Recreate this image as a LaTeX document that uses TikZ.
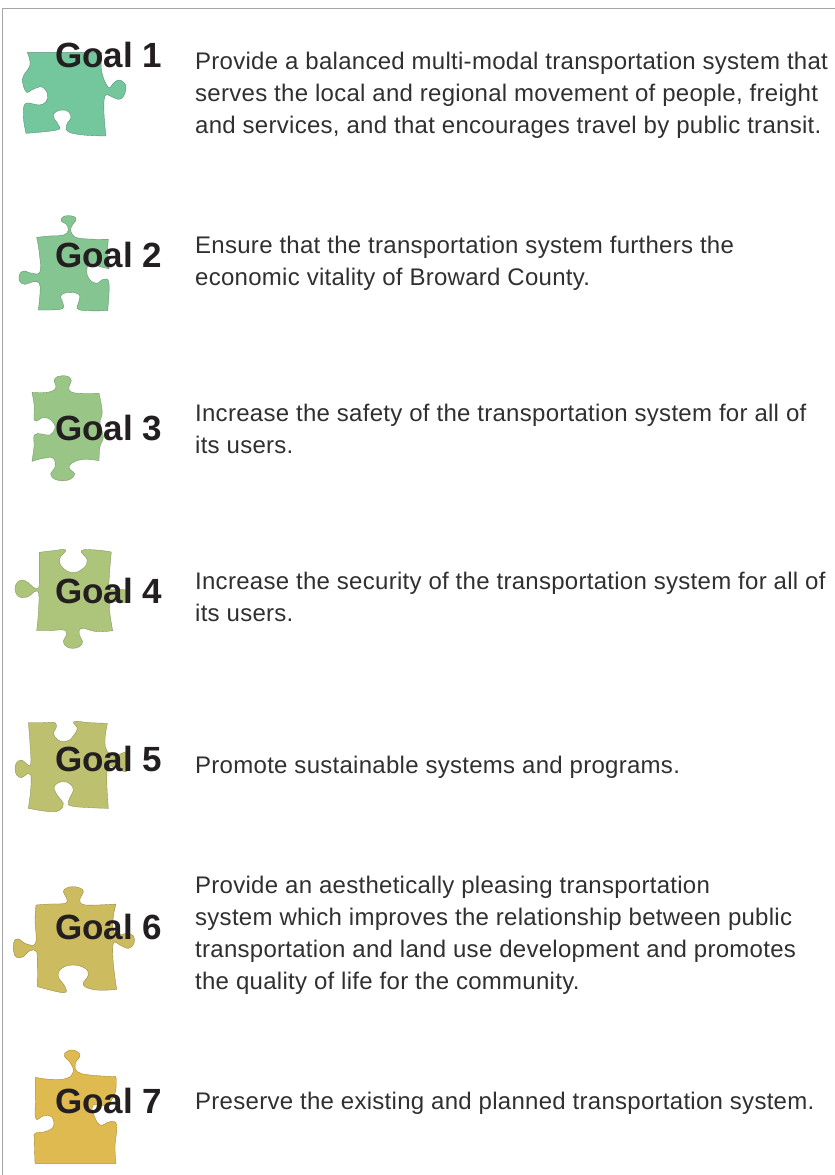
\documentclass[tikz,border=0pt]{standalone}
\usepackage{fontspec}
\setmainfont{Liberation Sans}
\newfontfamily\bodyfont[LetterSpace=1.15]{Liberation Sans}
\definecolor{ink}{HTML}{231F20}
\definecolor{bodyink}{HTML}{303032}
\definecolor{frameg}{HTML}{A6A6A6}
\tikzset{
  goal/.style={anchor=base west,inner sep=0pt,text=ink,font=\fontsize{35}{35}\selectfont\bfseries},
  body/.style={anchor=base west,inner sep=0pt,text=bodyink,font=\bodyfont\fontsize{24}{32}\selectfont},
  piece/.style={line width=.35pt},
  sm/.style={smooth,tension=.7}
}
\begin{document}
\begin{tikzpicture}[x=1pt,y=-1pt]
\useasboundingbox (0,0) rectangle (835,1175);
\fill[white] (0,0) rectangle (835,1175);
\draw[frameg,line width=1pt] (2.3,1175) -- (2.3,8) -- (835,8);

% Piece 1
\begin{scope}[scale=1/3]
\filldraw[piece,fill={rgb,255:red,116;green,198;blue,157},draw={rgb,255:red,80;green,140;blue,115}]
 plot[sm] coordinates {(82,158)} -- (305,158)
 -- plot[sm] coordinates {(305,158)(305,215)(325,262)(340,250)(355,240)(372,248)(378,265)(370,290)(355,298)(335,290)(315,288)(312,340)(318,408)}
 -- plot[sm] coordinates {(318,408)(250,405)(205,395)(200,375)(213,352)(205,335)(188,330)(168,335)(160,350)(175,375)(170,390)(78,400)}
 -- plot[sm] coordinates {(78,400)(70,350)(75,312)(100,312)(120,315)(138,305)(143,285)(135,268)(120,260)(95,270)(78,275)(68,235)(90,195)(82,158)} -- cycle;
% Piece 2
\filldraw[piece,fill={rgb,255:red,132;green,197;blue,146},draw={rgb,255:red,95;green,145;blue,105}]
 plot[sm] coordinates {(110,712)(150,708)(190,705)(205,690)(198,672)(185,665)(183,660)(190,650)(205,647)(222,650)(228,660)(214,680)(215,700)(240,715)(325,718)}
 -- plot[sm] coordinates {(325,718)(322,770)(326,806)}
 -- plot[sm] coordinates {(326,806)(300,800)(270,790)(260,812)(268,838)(290,850)(310,838)(327,850)(323,932)}
 -- plot[sm] coordinates {(323,932)(240,930)(235,910)(240,890)(230,880)(210,877)(192,880)(182,890)(190,915)(180,928)(115,930)}
 -- plot[sm] coordinates {(115,930)(120,880)(118,850)(100,845)(75,853)(60,845)(57,832)(62,818)(75,813)(95,820)(120,815)(118,760)(110,712)} -- cycle;
\end{scope}
% Pieces 3, 4
\begin{scope}[shift={(0,360)},scale=1/3]
\filldraw[piece,fill={rgb,255:red,153;green,197;blue,135},draw={rgb,255:red,115;green,150;blue,100}]
 plot[sm] coordinates {(96,97)(130,98)(160,92)(168,78)(162,62)(172,50)(187,47)(205,50)(214,62)(207,80)(212,95)(240,100)(297,100)}
 -- plot[sm] coordinates {(297,100)(305,140)(306,165)(300,190)(310,230)(300,260)(297,302)}
 -- plot[sm] coordinates {(297,302)(250,298)(215,310)(208,325)(224,342)(210,358)(188,362)(165,358)(152,342)(165,322)(160,295)(130,295)(96,304)}
 -- plot[sm] coordinates {(96,304)(102,260)(103,225)(125,222)(150,225)(165,205)(160,188)(145,175)(130,172)(104,182)(103,140)(96,97)} -- cycle;
\filldraw[piece,fill={rgb,255:red,173;green,196;blue,123},draw={rgb,255:red,130;green,150;blue,90}]
 plot[sm] coordinates {(118,577)(160,572)(197,570)(178,598)(190,625)(220,638)(250,625)(262,600)(244,572)(290,570)(334,576)}
 -- plot[sm] coordinates {(334,576)(328,650)(330,685)(360,688)(380,690)}
 -- (378,728)
 -- plot[sm] coordinates {(378,728)(345,725)(328,735)(338,812)}
 -- plot[sm] coordinates {(338,812)(290,815)(245,805)(238,825)(248,845)(238,860)(218,865)(200,860)(190,845)(200,822)(190,810)(150,812)(110,812)}
 -- plot[sm] coordinates {(110,812)(115,760)(116,700)(102,696)(88,708)(65,713)(50,703)(45,686)(50,670)(65,660)(85,668)(100,682)(116,683)(118,640)(118,577)} -- cycle;
\end{scope}
% Pieces 5, 6
\begin{scope}[shift={(0,700)},scale=1/3]
\filldraw[piece,fill={rgb,255:red,189;green,192;blue,111},draw={rgb,255:red,140;green,145;blue,80}]
 plot[sm] coordinates {(85,68)(130,68)(165,68)(168,85)(160,100)(172,118)(190,125)(212,118)(222,105)(232,85)(222,65)(270,68)(322,70)}
 -- plot[sm] coordinates {(322,70)(315,120)(322,155)(350,165)(378,158)(388,190)(378,215)(350,205)(322,210)(325,325)}
 -- plot[sm] coordinates {(325,325)(270,323)(215,318)(205,305)(220,270)(210,252)(192,245)(172,250)(162,265)(175,290)(190,310)(180,330)(150,335)(85,325)}
 -- plot[sm] coordinates {(85,325)(92,270)(92,225)(78,224)(65,233)(50,225)(45,205)(50,188)(65,180)(78,190)(92,192)(90,130)(85,68)} -- cycle;
\filldraw[piece,fill={rgb,255:red,204;green,187;blue,95},draw={rgb,255:red,150;green,135;blue,60}]
 plot[sm] coordinates {(108,615)(150,612)(195,610)(200,595)(190,575)(200,564)(218,560)(240,564)(250,575)(240,597)(248,613)(290,615)(348,612)}
 -- plot[sm] coordinates {(348,612)(340,650)(340,690)(355,705)(380,700)(400,708)(402,730)(385,745)(360,735)(340,730)(340,790)(350,868)}
 -- plot[sm] coordinates {(350,868)(290,870)(250,855)(265,825)(255,805)(220,795)(185,805)(175,830)(195,860)(190,878)(113,860)}
 -- plot[sm] coordinates {(113,860)(112,790)(110,755)(90,752)(70,770)(50,772)(41,755)(42,725)(55,717)(80,732)(107,728)(105,660)(108,615)} -- cycle;
\end{scope}
% Piece 7
\begin{scope}[shift={(0,1030)},scale=1/3]
\filldraw[piece,fill={rgb,255:red,223;green,186;blue,80},draw={rgb,255:red,165;green,135;blue,50}]
 plot[sm] coordinates {(107,142)(150,148)(200,145)(220,125)(212,100)(193,78)(200,65)(215,60)(232,65)(240,78)(226,100)(232,125)(270,135)(348,140)}
 -- plot[sm] coordinates {(348,140)(345,190)(318,225)(280,225)(280,250)(300,285)(330,275)(350,285)(345,350)(348,400)}
 -- (105,400)
 -- plot[sm] coordinates {(105,400)(103,330)(105,310)(135,305)(160,290)(155,260)(130,258)(107,265)(107,200)(107,142)} -- cycle;
\end{scope}

\node[goal] (g1) at (55,67) {Goal 1};
\node[goal] (g2) at (55,267) {Goal 2};
\node[goal] (g3) at (55,440) {Goal 3};
\node[goal] (g4) at (55,603) {Goal 4};
\node[goal] (g5) at (55,771) {Goal 5};
\node[goal] (g6) at (55,939) {Goal 6};
\node[goal] (g7) at (55,1113) {Goal 7};

\node[body] (t1a) at (195,69) {Provide a balanced multi-modal transportation system that};
\node[body] (t1b) at (195,101) {serves the local and regional movement of people, freight};
\node[body] (t1c) at (195,133) {and services, and that encourages travel by public transit.};
\node[body] (t2a) at (195,253) {Ensure that the transportation system furthers the};
\node[body] (t2b) at (195,285) {economic vitality of Broward County.};
\node[body] (t3a) at (195,421) {Increase the safety of the transportation system for all of};
\node[body] (t3b) at (195,453) {its users.};
\node[body] (t4a) at (195,589) {Increase the security of the transportation system for all of};
\node[body] (t4b) at (195,621) {its users.};
\node[body] (t5a) at (195,773) {Promote sustainable systems and programs.};
\node[body] (t6a) at (195,893) {Provide an aesthetically pleasing transportation};
\node[body] (t6b) at (195,925) {system which improves the relationship between public};
\node[body] (t6c) at (195,957) {transportation and land use development and promotes};
\node[body] (t6d) at (195,989) {the quality of life for the community.};
\node[body] (t7a) at (195,1109) {Preserve the existing and planned transportation system.};
\end{tikzpicture}
\end{document}
